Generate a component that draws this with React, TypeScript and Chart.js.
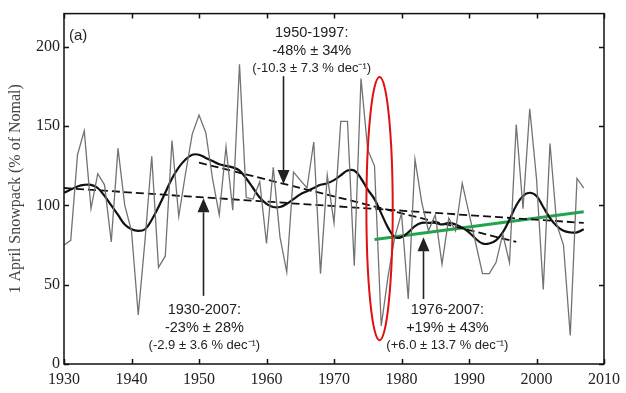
import React, { useEffect, useRef } from "react";
import { Chart, registerables } from "chart.js";

Chart.register(...registerables);

// ---- data ----
const startYear = 1930;
const snowpack = [
  75, 78, 132, 147, 98, 120, 113, 77, 136, 100, // 1930-1939
  84, 31, 78, 131, 61, 68, 141, 93, 120, 145, // 1940-1949
  157, 146, 117, 94, 137, 97, 189, 105, 104, 115, // 1950-1959
  76, 124, 80, 58, 121, 116, 111, 140, 57, 119, // 1960-1969
  89, 153, 153, 62, 180, 135, 125, 24, 55, 80, // 1970-1979
  95, 41, 129, 102, 84, 94, 63, 92, 84, 114, // 1980-1989
  95, 76, 57, 57, 64, 82, 64, 151, 98, 161, // 1990-1999
  117, 47, 139, 88, 75, 18, 117, 111, // 2000-2007
];
const smoothed = [
  108, 110, 112, 113, 113, 111, 106, 100, 94, 88, // 1930-1939
  85, 84, 85, 91, 99, 108, 117, 124, 129, 132, // 1940-1949
  132, 130, 128, 126, 125, 124, 122, 117, 111, 105, // 1950-1959
  101, 99, 99, 101, 104, 107, 109, 111, 113, 114, // 1960-1969
  116, 119, 122, 122, 117, 110, 104, 95, 86, 80, // 1970-1979
  80, 83, 87, 89, 89, 89, 88, 89, 88, 86, // 1980-1989
  83, 79, 76, 76, 78, 83, 91, 100, 106, 108, // 1990-1999
  106, 99, 92, 87, 84, 83, 83, 85, // 2000-2007
];
const trend1930 = [{ x: 1930, y: 111 }, { x: 2007, y: 89 }];
const trend1950 = [{ x: 1950, y: 127 }, { x: 1997, y: 77 }];
const trend1976 = [{ x: 1976, y: 78.5 }, { x: 2007, y: 96 }];

const xTicks = [1930, 1940, 1950, 1960, 1970, 1980, 1990, 2000, 2010];
const yTicks = [0, 50, 100, 150, 200];

const yTitle = "1 April Snowpack (% of Nomal)";
const panelLabel = "(a)";
const notes = [
  { lines: ["1950-1997:", "-48% ± 34%", "(-10.3 ± 7.3 % dec⁻¹)"], x: 1966.7, y: 208.5, arrowX: 1962.45, arrowFrom: 181.5, arrowTo: 113.5 },
  { lines: ["1930-2007:", "-23% ± 28%", "(-2.9 ± 3.6 % dec⁻¹)"], x: 1950.8, y: 33.8, arrowX: 1950.55, arrowFrom: 43, arrowTo: 104.5 },
  { lines: ["1976-2007:", "+19% ± 43%", "(+6.0 ± 13.7 % dec⁻¹)"], x: 1986.8, y: 33.8, arrowX: 1983.2, arrowFrom: 41, arrowTo: 80 },
];
const ellipse = { x: 1976.75, y: 98, rx: 1.95, ry: 83 };

const series = (vals: number[]) => vals.map((v, i) => ({ x: startYear + i, y: v }));

const overlay = {
  id: "overlay",
  afterDraw(chart: any) {
    const { ctx, chartArea: a, scales } = chart;
    const xs = scales.x, ys = scales.y;
    ctx.save();
    // frame
    ctx.strokeStyle = "#111";
    ctx.lineWidth = 1.5;
    ctx.strokeRect(a.left, a.top, a.right - a.left, a.bottom - a.top);
    // inward ticks
    ctx.lineWidth = 1.5;
    ctx.beginPath();
    xTicks.forEach((v) => {
      const p = Math.round(xs.getPixelForValue(v)) + 0.5;
      ctx.moveTo(p, a.bottom); ctx.lineTo(p, a.bottom - 5);
      ctx.moveTo(p, a.top); ctx.lineTo(p, a.top + 5);
    });
    yTicks.forEach((v) => {
      const p = Math.round(ys.getPixelForValue(v)) + 0.5;
      ctx.moveTo(a.left, p); ctx.lineTo(a.left + 5, p);
      ctx.moveTo(a.right, p); ctx.lineTo(a.right - 5, p);
    });
    ctx.stroke();
    // red ellipse
    const cx = xs.getPixelForValue(ellipse.x);
    const cy = ys.getPixelForValue(ellipse.y);
    const rx = xs.getPixelForValue(ellipse.x + ellipse.rx) - cx;
    const ry = cy - ys.getPixelForValue(ellipse.y + ellipse.ry);
    ctx.beginPath();
    ctx.ellipse(cx, cy, rx, ry, 0, 0, Math.PI * 2);
    ctx.strokeStyle = "#e01010";
    ctx.lineWidth = 2;
    ctx.stroke();
    // notes
    ctx.fillStyle = "#222";
    ctx.strokeStyle = "#222";
    ctx.textAlign = "center";
    ctx.textBaseline = "middle";
    notes.forEach((n) => {
      const tx = xs.getPixelForValue(n.x);
      const ty = ys.getPixelForValue(n.y);
      ctx.font = "14.5px 'Liberation Sans', Arial, sans-serif";
      ctx.fillText(n.lines[0], tx, ty);
      ctx.fillText(n.lines[1], tx, ty + 17.5);
      ctx.font = "13px 'Liberation Sans', Arial, sans-serif";
      ctx.fillText(n.lines[2], tx, ty + 35);
      // arrow
      const ax = Math.round(xs.getPixelForValue(n.arrowX)) + 0.5;
      const y0 = ys.getPixelForValue(n.arrowFrom);
      const y1 = ys.getPixelForValue(n.arrowTo);
      const dir = y1 > y0 ? 1 : -1;
      const headLen = 14, headW = 6;
      ctx.lineWidth = 1.6;
      ctx.beginPath();
      ctx.moveTo(ax, y0);
      ctx.lineTo(ax, y1 - dir * headLen);
      ctx.stroke();
      ctx.beginPath();
      ctx.moveTo(ax, y1);
      ctx.lineTo(ax - headW, y1 - dir * headLen);
      ctx.lineTo(ax + headW, y1 - dir * headLen);
      ctx.closePath();
      ctx.fill();
    });
    // panel label
    ctx.textAlign = "left";
    ctx.font = "15px 'Liberation Sans', Arial, sans-serif";
    ctx.fillText(panelLabel, a.left + 5, a.top + 22);
    // y title
    ctx.save();
    ctx.translate(15.5, (a.top + a.bottom) / 2);
    ctx.rotate(-Math.PI / 2);
    ctx.textAlign = "center";
    ctx.fillStyle = "#444";
    ctx.font = "16px 'Liberation Serif', 'Times New Roman', serif";
    ctx.fillText(yTitle, 0, 0);
    ctx.restore();
    ctx.restore();
  },
};

export default function App() {
  const ref = useRef<HTMLCanvasElement>(null);
  useEffect(() => {
    document.body.style.margin = "0";
    const chart = new Chart(ref.current as HTMLCanvasElement, {
      type: "line",
      data: {
        datasets: [
          { data: series(snowpack), borderColor: "#727272", borderWidth: 1.3, pointRadius: 0, tension: 0 },
          { data: series(smoothed), borderColor: "#111", borderWidth: 2.2, pointRadius: 0, tension: 0.4 },
          { data: trend1930, borderColor: "#111", borderWidth: 1.8, borderDash: [8, 4], pointRadius: 0 },
          { data: trend1950, borderColor: "#111", borderWidth: 1.8, borderDash: [8, 4], pointRadius: 0 },
          { data: trend1976, borderColor: "#1fa64c", borderWidth: 3, pointRadius: 0 },
        ] as any,
      },
      options: {
        animation: false,
        responsive: false,
        layout: { padding: { top: 10, right: 22, left: 0, bottom: 0 } },
        plugins: { legend: { display: false }, tooltip: { enabled: false } },
        scales: {
          x: {
            type: "linear",
            min: 1930,
            max: 2010,
            grid: { display: false, drawTicks: false },
            border: { display: false },
            ticks: {
              stepSize: 10,
              padding: 6,
              color: "#222",
              font: { family: "'Liberation Serif', 'Times New Roman', serif", size: 16 },
              callback: (v: any) => String(v),
            },
            afterBuildTicks: (s: any) => { s.ticks = xTicks.map((v) => ({ value: v })); },
            afterFit: (s: any) => { s.height = 29; },
          },
          y: {
            min: 0,
            max: 221,
            grid: { display: false, drawTicks: false },
            border: { display: false },
            ticks: {
              stepSize: 50,
              padding: 4,
              color: "#222",
              font: { family: "'Liberation Serif', 'Times New Roman', serif", size: 16 },
            },
            afterBuildTicks: (s: any) => { s.ticks = yTicks.map((v) => ({ value: v })); },
            afterFit: (s: any) => { s.width = 64; },
          },
        },
      } as any,
      plugins: [overlay],
    });
    return () => chart.destroy();
  }, []);
  return (
    <div style={{ width: 626, height: 393, background: "#fff" }}>
      <canvas ref={ref} width={626} height={393} />
    </div>
  );
}
